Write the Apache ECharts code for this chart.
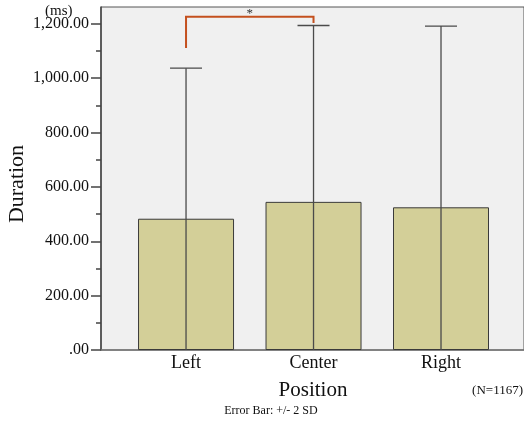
<!DOCTYPE html>
<html><head><meta charset="utf-8">
<script src="https://cdn.jsdelivr.net/npm/echarts@6/dist/echarts.min.js"></script>
<style>html,body{margin:0;padding:0;background:#fff}#c{width:524px;height:428px}</style>
</head><body><div id="c"></div>
<script>
var categories = ['Left', 'Center', 'Right'];
var means = [483, 545, 525];
var upperBars = [1037, 1194, 1192];
var yTicks = [0, 200, 400, 600, 800, 1000, 1200];
var bracket = [0, 1, 1111, 1226, 1203]; // fromIdx, toIdx, leftEndY, topY, rightEndY

var F = 'Liberation Serif, Times New Roman, serif';
var chart = echarts.init(document.getElementById('c'), null, {renderer: 'canvas'});
var barData = means.map(function (m, i) { return [i, m]; });
var errData = means.map(function (m, i) {
  var lo = Math.max(0, m - (upperBars[i] - m));
  return [i, lo, upperBars[i]];
});
chart.setOption({
  animation: false,
  grid: {left: 101, right: -1, top: 7, bottom: 78, show: true, backgroundColor: '#f0f0f0', borderColor: '#555', borderWidth: 1},
  xAxis: {
    type: 'value', min: -0.667, max: 2.651,
    splitLine: {show: false},
    axisTick: {show: false},
    axisLine: {show: true, onZero: false, lineStyle: {color: '#777', width: 1.5}},
    axisLabel: {customValues: [0, 1, 2], formatter: function (v) { return categories[Math.round(v)]; },
      fontFamily: F, fontSize: 18, color: '#111', margin: 4}
  },
  yAxis: {
    type: 'value', min: 0, max: 1262, interval: 200,
    splitLine: {show: false},
    axisLine: {show: true, onZero: false, lineStyle: {color: '#444', width: 1.5}},
    axisTick: {show: true, length: 10, customValues: yTicks, lineStyle: {color: '#444', width: 1.5}},
    minorTick: {show: true, splitNumber: 2, length: 5, lineStyle: {color: '#444', width: 1.5}},
    axisLabel: {fontFamily: F, fontSize: 16, color: '#111', margin: 12, padding: [3, 0, 0, 0],
      customValues: yTicks,
      formatter: function (v) { return v === 0 ? '.00' : v.toLocaleString('en-US', {minimumFractionDigits: 2, maximumFractionDigits: 2}); }}
  },
  series: [
    {type: 'bar', data: barData, barWidth: 96,
     itemStyle: {color: '#d3cf98', borderColor: '#3a3a3a', borderWidth: 1}},
    {type: 'custom', data: errData, z: 5,
     renderItem: function (params, api) {
       var x = api.value(0);
       var p0 = api.coord([x, api.value(1)]);
       var p1 = api.coord([x, api.value(2)]);
       var st = {stroke: '#4a4a4a', lineWidth: 1.3};
       return {type: 'group', children: [
         {type: 'line', shape: {x1: p0[0], y1: p0[1], x2: p1[0], y2: p1[1]}, style: st},
         {type: 'line', shape: {x1: p1[0] - 16, y1: p1[1], x2: p1[0] + 16, y2: p1[1]}, style: st}
       ]};
     }},
    {type: 'custom', data: [bracket], z: 6,
     renderItem: function (params, api) {
       var a = api.coord([api.value(0), api.value(2)]);
       var b = api.coord([api.value(0), api.value(3)]);
       var c = api.coord([api.value(1), api.value(3)]);
       var d = api.coord([api.value(1), api.value(4)]);
       return {type: 'group', children: [
         {type: 'polyline', shape: {points: [a, b, c, d]}, style: {stroke: '#c4501e', lineWidth: 2, fill: null}},
         {type: 'text', x: (b[0] + c[0]) / 2, y: b[1] + 3, style: {text: '*', fontFamily: F, fontSize: 13, fill: '#333', align: 'center', verticalAlign: 'bottom'}}
       ]};
     }}
  ],
  graphic: [
    {type: 'text', left: 45, top: 4, style: {text: '(ms)', fontFamily: F, fontSize: 15, fill: '#111'}},
    {type: 'text', x: 17, y: 184, rotation: Math.PI / 2, style: {text: 'Duration', fontFamily: F, fontSize: 22, fill: '#111', align: 'center', verticalAlign: 'middle'}},
    {type: 'text', x: 313, y: 390, style: {text: 'Position', fontFamily: F, fontSize: 21, fill: '#111', align: 'center', verticalAlign: 'middle'}},
    {type: 'text', x: 523, y: 391, style: {text: '(N=1167)', fontFamily: F, fontSize: 13, fill: '#111', align: 'right', verticalAlign: 'middle'}},
    {type: 'text', x: 271, y: 411, style: {text: 'Error Bar: +/- 2 SD', fontFamily: F, fontSize: 12, fill: '#111', align: 'center', verticalAlign: 'middle'}}
  ]
});
</script></body></html>
